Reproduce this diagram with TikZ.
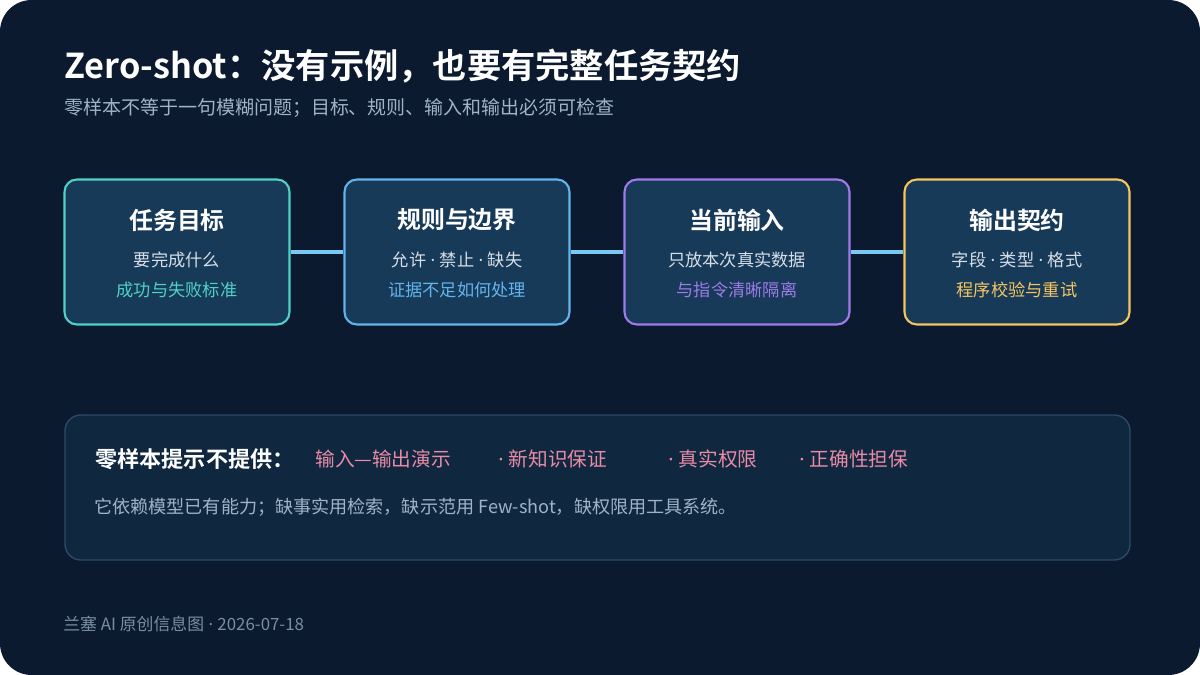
\documentclass[tikz,border=0pt]{standalone}
\usepackage{fontspec}
\setmainfont{Noto Sans CJK SC}[BoldFont={Noto Sans CJK SC Bold}]
\newfontfamily\latinfont{Noto Sans}
\newcommand{\middot}{{\latinfont\ ·\ }}
\usetikzlibrary{positioning}
\definecolor{bgdark}{HTML}{0B1A2E}
\definecolor{cardfill}{HTML}{173A58}
\definecolor{panelfill}{HTML}{10283F}
\definecolor{panelline}{HTML}{2A4A66}
\definecolor{linkblue}{HTML}{7CC8F4}
\definecolor{tealc}{HTML}{4FD1C5}
\definecolor{bluec}{HTML}{63B3ED}
\definecolor{purplec}{HTML}{9F7AEA}
\definecolor{amberc}{HTML}{F6C560}
\definecolor{subgray}{HTML}{9FB3C8}
\definecolor{bodytxt}{HTML}{D5DEE8}
\definecolor{pinkc}{HTML}{E98AA6}
\tikzset{
  card/.style={draw=#1, line width=1.2pt, fill=cardfill, rounded corners=7pt,
    minimum width=4.5cm, minimum height=2.9cm},
  head/.style={font=\bfseries\fontsize{13.6}{15}\selectfont, text=white},
  line1/.style={font=\fontsize{9.8}{11}\selectfont, text=bodytxt},
  line2/.style={font=\fontsize{9.8}{11}\selectfont, text=#1},
  link/.style={draw=linkblue, line width=2.2pt},
  tag/.style={font=\fontsize{11.2}{13}\selectfont, text=pinkc, anchor=west, inner sep=0pt}
}
\begin{document}
\begin{tikzpicture}[x=0.02cm,y=-0.02cm]
  \fill[white] (0,0) rectangle (1200,675);
  \fill[bgdark, rounded corners=18pt] (0,0) rectangle (1200,675);
  \node[anchor=west, inner sep=0pt, font=\bfseries\fontsize{19.5}{22}\selectfont, text=white] (title) at (64,66) {Zero-shot：没有示例，也要有完整任务契约};
  \node[anchor=west, inner sep=0pt, font=\fontsize{10.8}{12}\selectfont, text=subgray] (subtitle) at (64,108) {零样本不等于一句模糊问题；目标、规则、输入和输出必须可检查};
  % cards
  \node[card=tealc] (goal) at (177,252) {};
  \node[card=bluec] (rules) at (457,252) {};
  \node[card=purplec] (input) at (737,252) {};
  \node[card=amberc] (output) at (1017,252) {};
  \draw[link] (goal) -- (rules);
  \draw[link] (rules) -- (input);
  \draw[link] (input) -- (output);
  \node[head] at (177,220) {任务目标};
  \node[line1] at (177,260) {要完成什么};
  \node[line2=tealc] at (177,290) {成功与失败标准};
  \node[head] at (457,220) {规则与边界};
  \node[line1] at (457,260) {允许\middot 禁止\middot 缺失};
  \node[line2=bluec] at (457,290) {证据不足如何处理};
  \node[head] at (737,220) {当前输入};
  \node[line1] at (737,260) {只放本次真实数据};
  \node[line2=purplec] at (737,290) {与指令清晰隔离};
  \node[head] at (1017,220) {输出契约};
  \node[line1] at (1017,260) {字段\middot 类型\middot 格式};
  \node[line2=amberc] at (1017,290) {程序校验与重试};
  % bottom panel
  \draw[draw=panelline, fill=panelfill, line width=0.8pt, rounded corners=9pt] (65,415) rectangle (1130,560);
  \node[anchor=west, inner sep=0pt, font=\bfseries\fontsize{12.6}{14}\selectfont, text=white] (nogive) at (95,459) {零样本提示不提供：};
  \node[tag] at (315,459) {输入—输出演示};
  \node[tag] at (498,459) {{\latinfont·\ }新知识保证};
  \node[tag] at (668,459) {{\latinfont·\ }真实权限};
  \node[tag] at (799,459) {{\latinfont·\ }正确性担保};
  \node[anchor=west, inner sep=0pt, font=\fontsize{10.3}{12}\selectfont, text=subgray] (note) at (94,507) {它依赖模型已有能力；缺事实用检索，缺示范用 Few-shot，缺权限用工具系统。};
  \node[anchor=west, inner sep=0pt, font=\fontsize{9.6}{11}\selectfont, text=subgray!75!bgdark] (foot) at (63,624) {兰塞 AI 原创信息图\middot 2026-07-18};
\end{tikzpicture}
\end{document}
